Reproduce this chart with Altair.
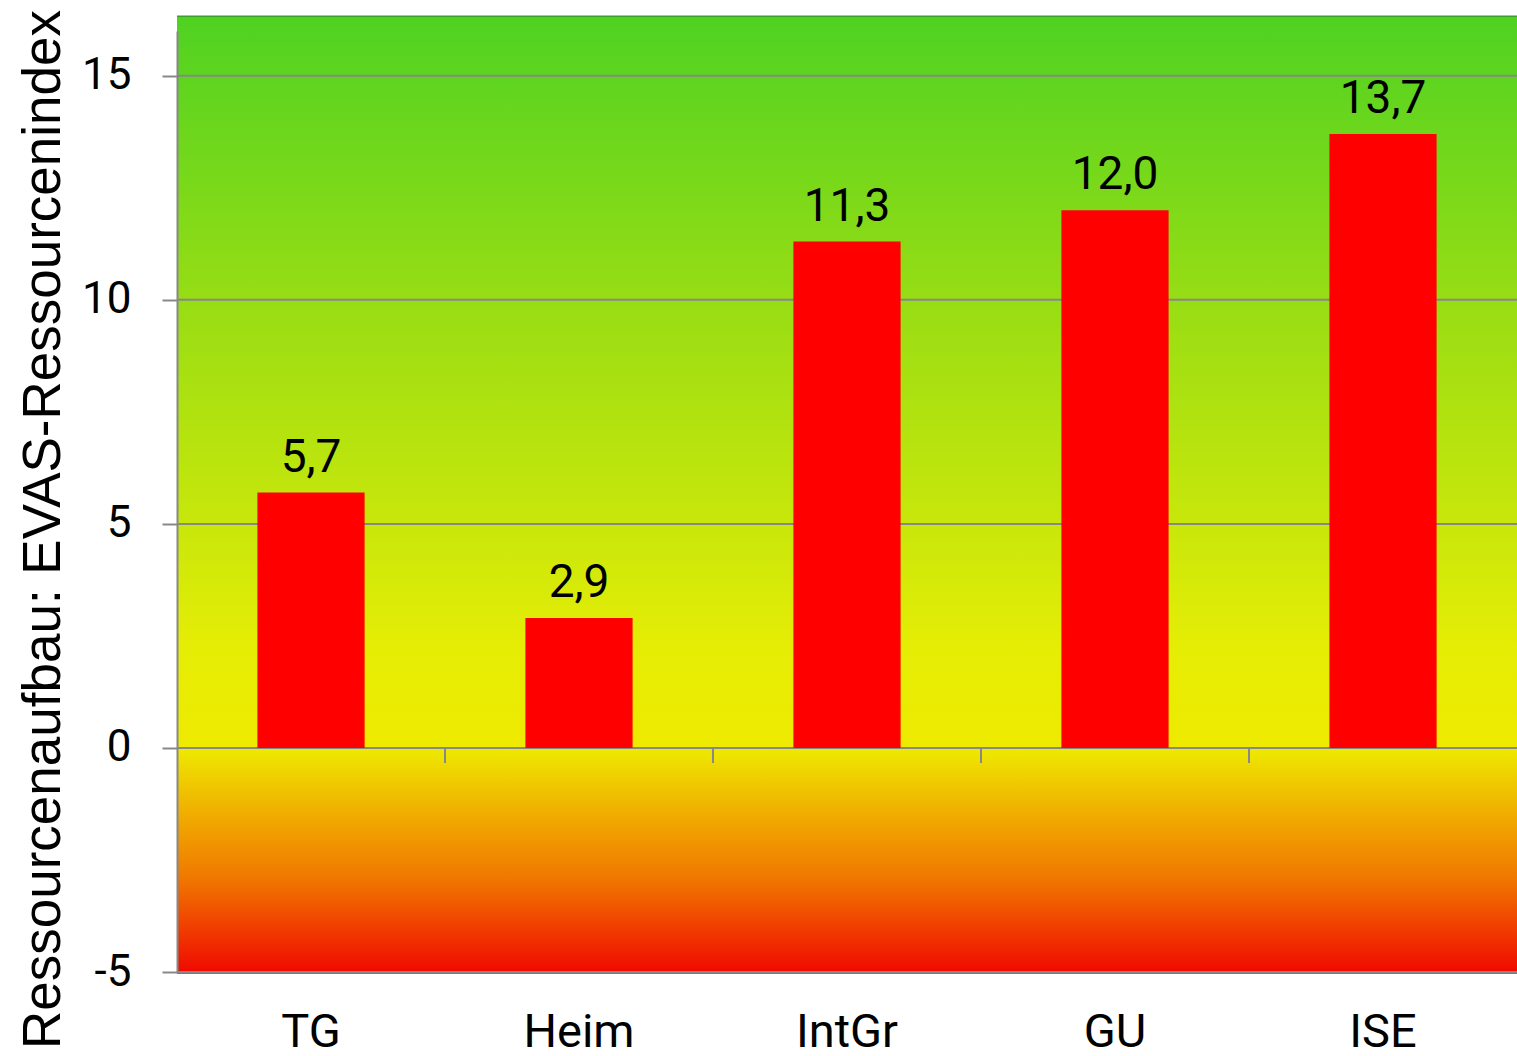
import altair as alt
import pandas as pd

categories = ["TG", "Heim", "IntGr", "GU", "ISE"]
values = [5.7, 2.9, 11.3, 12.0, 13.7]
value_labels = ["5,7", "2,9", "11,3", "12,0", "13,7"]
y_ticks = [-5, 0, 5, 10, 15]
boundary_cats = ["Heim", "IntGr", "GU", "ISE"]
bg_top, bg_bottom = 16.33, -5.04

bars_df = pd.DataFrame({"cat": categories, "val": values, "lab": value_labels})
grid_df = pd.DataFrame({"y": y_ticks})
bound_df = pd.DataFrame({"cat": boundary_cats, "y0": [0] * 4, "y1": [-0.335] * 4})
bg_df = pd.DataFrame({"top": [bg_top], "bottom": [bg_bottom]})

yscale = alt.Scale(domain=[-5, 16], nice=False, zero=False)
xscale = alt.Scale(domain=categories, paddingInner=0.6, paddingOuter=0.3)
xstep_scale = alt.Scale(domain=categories, paddingInner=0, paddingOuter=0)

grad = alt.Gradient(
    gradient="linear",
    x1=0, x2=0, y1=0, y2=1,
    stops=[
        alt.GradientStop(offset=0.0, color="#4fd222"),
        alt.GradientStop(offset=0.30, color="#98dd14"),
        alt.GradientStop(offset=0.53, color="#c8e70b"),
        alt.GradientStop(offset=0.66, color="#e6ed05"),
        alt.GradientStop(offset=0.764, color="#eeea00"),
        alt.GradientStop(offset=0.83, color="#f0b000"),
        alt.GradientStop(offset=0.90, color="#f07800"),
        alt.GradientStop(offset=0.95, color="#f04000"),
        alt.GradientStop(offset=1.0, color="#f00800"),
    ],
)

bg = alt.Chart(bg_df).mark_rect(color=grad).encode(
    x=alt.value(0), x2=alt.value("width"),
    y=alt.Y("top:Q", scale=yscale,
            axis=alt.Axis(values=y_ticks, grid=False, domainColor="#888888", domainWidth=2,
                          tickColor="#888888", tickWidth=2, tickSize=15,
                          labelExpr="toString(datum.value)",
                          labelFont="Roboto", labelFontSize=44, labelColor="black", labelPadding=31,
                          title="Ressourcenaufbau: EVAS-Ressourcenindex",
                          titleFont="Liberation Sans", titleFontSize=53, titleFontWeight="normal",
                          titleColor="black", titleAngle=-90, titleBaseline="alphabetic",
                          titleAlign="center", titleX=-118, titleY=498, zindex=1)),
    y2="bottom:Q",
)

topline = alt.Chart(bg_df).mark_rule(color="#3e9e2a", strokeWidth=1.5).encode(
    x=alt.value(0), x2=alt.value("width"), y=alt.Y("top:Q", scale=yscale)
)

grid = alt.Chart(grid_df).mark_rule(color="#888888", strokeWidth=2).encode(
    x=alt.value(0), x2=alt.value("width"), y=alt.Y("y:Q", scale=yscale)
)

bounds = alt.Chart(bound_df).mark_rule(color="#888888", strokeWidth=2).encode(
    x=alt.X("cat:N", scale=xstep_scale, bandPosition=0, axis=None),
    y=alt.Y("y0:Q", scale=yscale),
    y2="y1:Q",
)

bars = alt.Chart(bars_df).mark_bar(color="#ff0000").encode(
    x=alt.X("cat:N", scale=xscale, sort=categories,
            axis=alt.Axis(title=None, domain=False, ticks=False, grid=False, labelAngle=0,
                          labelFont="Roboto", labelFontSize=47, labelColor="black", labelPadding=37)),
    y=alt.Y("val:Q", scale=yscale),
    y2=alt.datum(0),
)

texts = alt.Chart(bars_df).mark_text(
    font="Roboto", fontSize=46, color="black", baseline="alphabetic", dy=-21
).encode(
    x=alt.X("cat:N", scale=xscale, axis=None),
    y=alt.Y("val:Q", scale=yscale),
    text="lab:N",
)

chart = alt.layer(bg, topline, grid, bounds, bars, texts).resolve_scale(
    x="independent"
).properties(
    width=1340, height=941,
    autosize=alt.AutoSizeParams(type="none"),
    padding={"left": 177, "top": 31, "right": 0, "bottom": 84},
).configure_view(stroke=None).configure(background="white")

chart.save("out.html", embed_options={"renderer": "svg", "actions": False})
